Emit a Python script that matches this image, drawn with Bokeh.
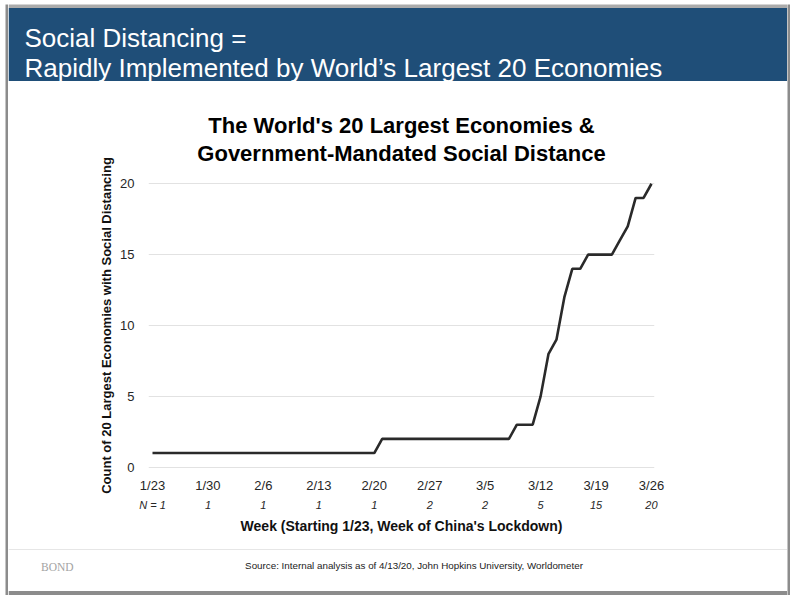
import pandas as pd
from bokeh.plotting import figure
from bokeh.layouts import column, row
from bokeh.models import Range1d, LinearAxis, FixedTicker, ColumnDataSource
from bokeh.core.properties import value
from bokeh.embed import file_html
from bokeh.resources import INLINE

# ---------------- data ----------------
start_date = "2020-01-23"
counts = [1, 1, 1, 1, 1, 1, 1, 1, 1, 1,
          1, 1, 1, 1, 1, 1, 1, 1, 1, 1,
          1, 1, 1, 1, 1, 1, 1, 1, 1, 2,
          2, 2, 2, 2, 2, 2, 2, 2, 2, 2,
          2, 2, 2, 2, 2, 2, 3, 3, 3, 5,
          8, 9, 12, 14, 14, 15, 15, 15, 15, 16,
          17, 19, 19, 20]
tick_labels = ["1/23", "1/30", "2/6", "2/13", "2/20", "2/27", "3/5", "3/12", "3/19", "3/26"]
n_labels = ["N = 1", "1", "1", "1", "1", "2", "2", "5", "15", "20"]
y_ticks = [0, 5, 10, 15, 20]

header_lines = ["Social Distancing =", "Rapidly Implemented by World\u2019s Largest 20 Economies"]
title_lines = ["The World's 20 Largest Economies &", "Government-Mandated Social Distance"]
y_label = "Count of 20 Largest Economies with Social Distancing"
x_label = "Week (Starting 1/23, Week of China's Lockdown)"
source_text = "Source: Internal analysis as of 4/13/20, John Hopkins University, Worldometer"
logo_text = "BOND"

dates = pd.date_range(start_date, periods=len(counts), freq="D")
day_index = list(range(len(counts)))
date_str = [f"{d.month}/{d.day}" for d in dates]
tick_days = [date_str.index(t) for t in tick_labels]

src = ColumnDataSource(dict(day=day_index, count=counts, date=date_str))

FONT = "Liberation Sans"
BORDER = "#8c8c8c"
BORDER_TOP = "#ababab"
BLUE = "#1f4e78"
INNER_W = 779


def deco_fig(w, h, color="white"):
    f = figure(width=w, height=h, x_range=Range1d(0, w), y_range=Range1d(h, 0),
               x_axis_type=None, y_axis_type=None, output_backend="svg",
               toolbar_location=None, min_border=0)
    f.title.visible = False
    f.outline_line_color = None
    f.background_fill_color = color
    f.border_fill_color = color
    return f


def bare_axis(ax):
    ax.axis_line_color = None
    ax.major_tick_line_color = None
    ax.minor_tick_line_color = None
    ax.major_tick_out = 0
    ax.major_tick_in = 0
    ax.minor_tick_out = 0
    ax.minor_tick_in = 0


# ---------------- header ----------------
top = deco_fig(INNER_W, 88)
top.quad(left=[0], right=[INNER_W], top=[4], bottom=[7.5], fill_color=BORDER_TOP, line_color=None)
top.quad(left=[0], right=[INNER_W], top=[7.5], bottom=[80.5], fill_color=BLUE, line_color=None)
top.text(x=[16, 16], y=[37, 67], text=header_lines, text_font=value(FONT), text_font_size=value("26px"),
         text_color="white", text_baseline="alphabetic", text_align="left")

# ---------------- chart ----------------
p = figure(width=INNER_W, height=457, output_backend="svg", toolbar_location=None,
           x_range=Range1d(-0.505, 63.38), y_range=Range1d(-0.3, 20.3),
           min_border_left=140, min_border_right=133, min_border_top=91, min_border_bottom=74)
p.title.visible = False
p.outline_line_color = None
p.background_fill_color = "white"
p.border_fill_color = "white"

p.line("day", "count", source=src, line_color="#2a2a2a", line_width=2.6)

p.xgrid.visible = False
p.ygrid.ticker = FixedTicker(ticks=y_ticks)
p.ygrid.grid_line_color = "#e2e2e2"
p.ygrid.grid_line_width = 1

ya = p.yaxis[0]
ya.ticker = FixedTicker(ticks=y_ticks)
bare_axis(ya)
ya.major_label_text_font = FONT
ya.major_label_text_font_size = "13px"
ya.major_label_text_color = "#262626"
ya.major_label_standoff = 14
ya.axis_label = y_label
ya.axis_label_text_font = FONT
ya.axis_label_text_font_style = "bold"
ya.axis_label_text_font_size = "13px"
ya.axis_label_text_color = "#111111"
ya.axis_label_standoff = 3

xa = p.xaxis[0]
xa.ticker = FixedTicker(ticks=tick_days)
xa.major_label_overrides = {d: t for d, t in zip(tick_days, tick_labels)}
bare_axis(xa)
xa.major_label_text_font = FONT
xa.major_label_text_font_size = "13px"
xa.major_label_text_color = "#262626"
xa.major_label_standoff = 6

xa2 = LinearAxis(ticker=FixedTicker(ticks=tick_days),
                 major_label_overrides={d: n for d, n in zip(tick_days, n_labels)})
bare_axis(xa2)
xa2.major_label_text_font = FONT
xa2.major_label_text_font_size = "11px"
xa2.major_label_text_font_style = "italic"
xa2.major_label_text_color = "#262626"
xa2.major_label_standoff = 3
xa2.axis_label = x_label
xa2.axis_label_text_font = FONT
xa2.axis_label_text_font_style = "bold"
xa2.axis_label_text_font_size = "14px"
xa2.axis_label_text_color = "#111111"
xa2.axis_label_standoff = 4
p.add_layout(xa2, "below")

# chart title: two label-only axes above the frame
for txt, stand in [(title_lines[1], 14), (title_lines[0], 0)]:
    ta = LinearAxis(ticker=FixedTicker(ticks=[]))
    bare_axis(ta)
    ta.major_label_standoff = 0
    ta.axis_label = txt
    ta.axis_label_text_font = FONT
    ta.axis_label_text_font_style = "bold"
    ta.axis_label_text_font_size = "22px"
    ta.axis_label_text_color = "black"
    ta.axis_label_standoff = stand
    p.add_layout(ta, "above")

# ---------------- footer ----------------
bottom = deco_fig(INNER_W, 55)
bottom.quad(left=[0], right=[INNER_W], top=[45.5], bottom=[49.5], fill_color=BORDER, line_color=None)
bottom.quad(left=[0], right=[INNER_W], top=[3.5], bottom=[4.5], fill_color="#e6e6e6", line_color=None)
bottom.text(x=[405.5], y=[19.5], text=[source_text], text_font=value(FONT), text_font_size=value("9.8px"),
            text_color="#222222", text_baseline="alphabetic", text_align="center")
bottom.text(x=[32.5], y=[21], text=[logo_text], text_font=value("Liberation Serif"),
            text_font_size=value("11.5px"), text_color="#a3a3a3", text_baseline="alphabetic",
            text_align="left")

# each plot wrapped on its own so that the layout does not align their frames
inner = column(row(top), row(p), row(bottom))


def side_strip():
    return column(row(deco_fig(3, 4)), row(deco_fig(3, 591, BORDER)), row(deco_fig(3, 5)))


layout = row(column(deco_fig(5, 600)), side_strip(), inner, side_strip(), column(deco_fig(10, 600)))

open("out.html", "w").write(file_html(layout, INLINE))
